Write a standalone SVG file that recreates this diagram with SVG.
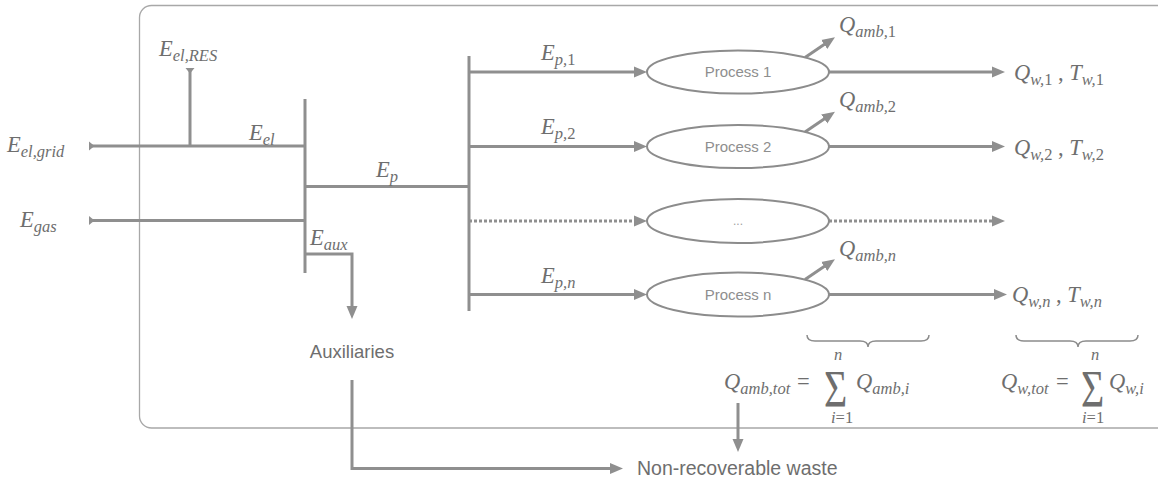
<svg xmlns="http://www.w3.org/2000/svg" width="1158" height="484" viewBox="0 0 1158 484">
<style>
.c{fill:none;stroke:#8f8f8f;stroke-width:3}
.d{fill:none;stroke:#8f8f8f;stroke-width:3;stroke-dasharray:3 2}
.a{marker-end:url(#ah)}
.t{marker-start:url(#tl)}
.box{fill:none;stroke:#a8a8a8;stroke-width:1.3}
.el{fill:#fff;stroke:#8c8c8c;stroke-width:2}
.br{fill:none;stroke:#8c8c8c;stroke-width:1.5}
.m{font-family:"Liberation Serif",serif;font-style:italic;font-size:22.5px;fill:#6e6e6e}
.s{font-size:16.5px}
.u{font-style:normal}
.r{font-family:"Liberation Serif",serif;font-size:22.5px;fill:#6e6e6e}
.p{font-family:"Liberation Sans",Arial,sans-serif;font-size:15px;fill:#8e8e8e;text-anchor:middle}
.l{font-family:"Liberation Sans",Arial,sans-serif;font-size:19.5px;fill:#6e6e6e}
</style>
<defs>
<marker id="ah" markerUnits="userSpaceOnUse" markerWidth="14" markerHeight="12" viewBox="0 0 14 12" refX="7" refY="6" orient="auto">
<path d="M0,0.5 L13,6 L0,11.5 z" fill="#8f8f8f"/>
</marker>
<marker id="tl" markerUnits="userSpaceOnUse" markerWidth="6" markerHeight="10" viewBox="0 0 6 10" refX="0" refY="5" orient="auto">
<path d="M0,0.5 L5.5,5 L0,9.5 z" fill="#8f8f8f"/>
</marker>
</defs>

<rect class="box" x="139.5" y="5.5" width="1040" height="422.5" rx="12"/>

<g id="connectors">
<path class="c t" d="M89,146 H305"/>
<path class="c t" d="M190,68 V146"/>
<path class="c t" d="M89,220.5 H305"/>
<path class="c" d="M305,99 V273"/>
<path class="c" d="M305,186.5 H469"/>
<path class="c" d="M469,56 V311"/>
<path class="c a" d="M305,254 H352 V313"/>
<path class="c a" d="M352,380 V468.5 H617"/>
<path class="c a" d="M738,403 V446"/>
<path class="c a" d="M469,72 H641"/>
<path class="c a" d="M469,146.5 H641"/>
<path class="d a" d="M469,221 H641"/>
<path class="c a" d="M469,294.5 H641"/>
<path class="c a" d="M829,72 H999"/>
<path class="c a" d="M829,146.5 H999"/>
<path class="d a" d="M829,221 H999"/>
<path class="c a" d="M829,294.5 H1001"/>
<path class="c a" d="M805,57.5 L830,40.5"/>
<path class="c a" d="M805,132 L830,115"/>
<path class="c a" d="M805,279.5 L830,262.5"/>
</g>

<g id="process1"><ellipse class="el" cx="738" cy="72" rx="91" ry="21.5"/><text class="p" x="738" y="77">Process 1</text></g>
<g id="process2"><ellipse class="el" cx="738" cy="146.5" rx="91" ry="21.5"/><text class="p" x="738" y="151.5">Process 2</text></g>
<g id="process3"><ellipse class="el" cx="738" cy="221" rx="91" ry="22"/><text class="p" x="738" y="225" style="font-size:12px;fill:#a0a0a0">...</text></g>
<g id="processn"><ellipse class="el" cx="738" cy="294.5" rx="91" ry="22"/><text class="p" x="738" y="299.5">Process n</text></g>

<g id="inputs">
<text class="m" x="7" y="152">E<tspan class="s" dy="5">el,grid</tspan></text>
<text class="m" x="20" y="227">E<tspan class="s" dy="5">gas</tspan></text>
<text class="m" x="159" y="56">E<tspan class="s" dy="5">el,RES</tspan></text>
<text class="m" x="249" y="140">E<tspan class="s" dy="5">el</tspan></text>
<text class="m" x="376" y="177">E<tspan class="s" dy="5">p</tspan></text>
<text class="m" x="310" y="245">E<tspan class="s" dy="5">aux</tspan></text>
<text class="m" x="541" y="60">E<tspan class="s" dy="5">p,</tspan><tspan class="s u">1</tspan></text>
<text class="m" x="541" y="134">E<tspan class="s" dy="5">p,</tspan><tspan class="s u">2</tspan></text>
<text class="m" x="541" y="283">E<tspan class="s" dy="5">p,n</tspan></text>
</g>

<g id="outputs">
<text class="m" x="839" y="32">Q<tspan class="s" dy="5">amb,</tspan><tspan class="s u">1</tspan></text>
<text class="m" x="839" y="107">Q<tspan class="s" dy="5">amb,</tspan><tspan class="s u">2</tspan></text>
<text class="m" x="839" y="256">Q<tspan class="s" dy="5">amb,n</tspan></text>
<text class="m" x="1014" y="80">Q<tspan class="s" dy="5">w,</tspan><tspan class="s u">1</tspan><tspan class="u" dy="-5"> , </tspan>T<tspan class="s" dy="5">w,</tspan><tspan class="s u">1</tspan></text>
<text class="m" x="1014" y="155">Q<tspan class="s" dy="5">w,</tspan><tspan class="s u">2</tspan><tspan class="u" dy="-5"> , </tspan>T<tspan class="s" dy="5">w,</tspan><tspan class="s u">2</tspan></text>
<text class="m" x="1012" y="302">Q<tspan class="s" dy="5">w,n</tspan><tspan class="u" dy="-5"> , </tspan>T<tspan class="s" dy="5">w,n</tspan></text>
</g>

<g id="sums">
<path class="br" d="M807,335 Q807,341 815,341 H860 Q868,341 868,347 Q868,341 876,341 H921 Q929,341 929,335"/>
<path class="br" d="M1016,335 Q1016,341 1024,341 H1070 Q1078,341 1078,347 Q1078,341 1086,341 H1130 Q1138,341 1138,335"/>
<text class="m" x="724" y="389">Q<tspan class="s" dy="5">amb,tot</tspan></text>
<text class="r" x="797" y="389">=</text>
<text class="r" transform="translate(824,407) scale(1.05,1.4)" style="font-size:38px">Σ</text>
<text class="m s" x="834" y="360">n</text>
<text class="m s" x="831" y="423">i<tspan class="u">=1</tspan></text>
<text class="m" x="856" y="389">Q<tspan class="s" dy="5">amb,i</tspan></text>
<text class="m" x="1001" y="389">Q<tspan class="s" dy="5">w,tot</tspan></text>
<text class="r" x="1056" y="389">=</text>
<text class="r" transform="translate(1081,407) scale(1.05,1.4)" style="font-size:38px">Σ</text>
<text class="m s" x="1091" y="360">n</text>
<text class="m s" x="1082" y="423">i<tspan class="u">=1</tspan></text>
<text class="m" x="1109" y="389">Q<tspan class="s" dy="5">w,i</tspan></text>
</g>

<g id="auxiliaries"><text class="l" x="352" y="358" text-anchor="middle" style="font-size:18.5px">Auxiliaries</text></g>
<g id="waste"><text class="l" x="637" y="475">Non-recoverable waste</text></g>
</svg>
